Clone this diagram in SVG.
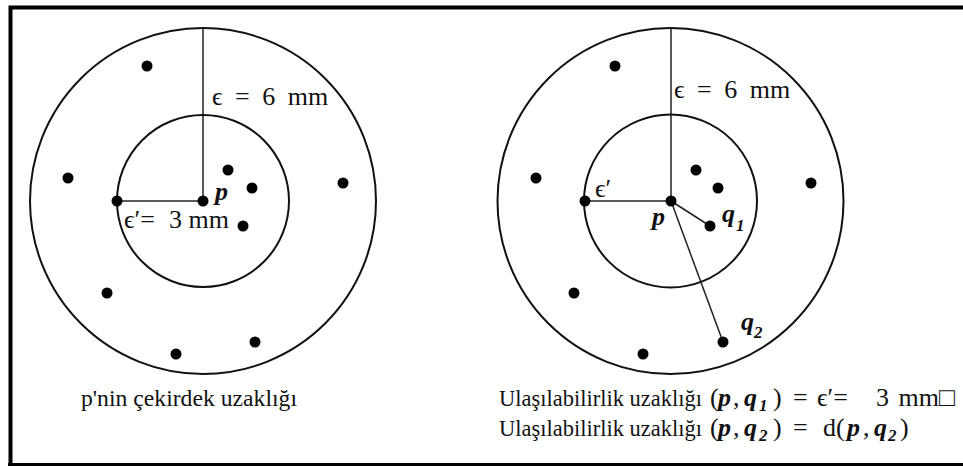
<svg xmlns="http://www.w3.org/2000/svg" width="963" height="466" viewBox="0 0 963 466">
<rect x="0" y="0" width="963" height="466" fill="#fff"/>
<path d="M10.5 466 V7.5 H963" fill="none" stroke="#000" stroke-width="4"/>
<line x1="8" y1="464.5" x2="963" y2="464.5" stroke="#000" stroke-width="3"/>

<g id="connectors" stroke="#222" stroke-width="1.5" fill="none">
<line x1="203" y1="28" x2="203" y2="201"/>
<line x1="117" y1="201" x2="203" y2="201"/>
<line x1="671" y1="28" x2="671" y2="201"/>
<line x1="585" y1="201" x2="671" y2="201"/>
<line x1="671" y1="201" x2="710" y2="226"/>
<line x1="671" y1="201" x2="723" y2="342"/>
</g>

<g id="left-diagram">
<g fill="none" stroke="#111" stroke-width="2">
<circle cx="203" cy="201" r="173"/>
<circle cx="203" cy="201" r="86"/>
</g>
<g id="left-points" fill="#000">
<circle cx="147" cy="66" r="5.5"/>
<circle cx="68" cy="178" r="5.5"/>
<circle cx="228" cy="170" r="5.5"/>
<circle cx="252" cy="188" r="5.5"/>
<circle cx="343" cy="183" r="5.5"/>
<circle cx="117" cy="201" r="5.5"/>
<circle cx="203" cy="201" r="5.5"/>
<circle cx="243" cy="226" r="5.5"/>
<circle cx="107" cy="293" r="5.5"/>
<circle cx="255" cy="342" r="5.5"/>
<circle cx="176" cy="354" r="5.5"/>
</g>
<text font-family="Liberation Serif" font-size="26" fill="#111" x="212" y="105" word-spacing="6">ϵ = 6 mm</text>
<text font-family="Liberation Serif" font-size="26" font-style="italic" font-weight="bold" fill="#111" x="215" y="200">p</text>
<text font-family="Liberation Serif" font-size="26" fill="#111" x="124" y="228">ϵ′=</text>
<text font-family="Liberation Serif" font-size="26" fill="#111" x="169" y="228">3 mm</text>
<text font-family="Liberation Serif" font-size="23" fill="#111" x="81" y="406" textLength="216" lengthAdjust="spacingAndGlyphs">p'nin çekirdek uzaklığı</text>
</g>

<g id="right-diagram">
<g fill="none" stroke="#111" stroke-width="2">
<circle cx="670.5" cy="201" r="173"/>
<circle cx="670.5" cy="201" r="86.5"/>
</g>
<g id="right-points" fill="#000">
<circle cx="615" cy="66" r="5.5"/>
<circle cx="536" cy="178" r="5.5"/>
<circle cx="696" cy="170" r="5.5"/>
<circle cx="718" cy="188" r="5.5"/>
<circle cx="811" cy="183" r="5.5"/>
<circle cx="585" cy="201" r="5.5"/>
<circle cx="671" cy="201" r="5.5"/>
<circle cx="710" cy="226" r="5.5"/>
<circle cx="574" cy="293" r="5.5"/>
<circle cx="723" cy="342" r="5.5"/>
<circle cx="643" cy="354" r="5.5"/>
</g>
<text font-family="Liberation Serif" font-size="26" fill="#111" x="674" y="98" word-spacing="6">ϵ = 6 mm</text>
<text font-family="Liberation Serif" font-size="26" fill="#111" x="595" y="197">ϵ′</text>
<text font-family="Liberation Serif" font-size="26" font-style="italic" font-weight="bold" fill="#111" x="652" y="225">p</text>
<text font-family="Liberation Serif" font-size="26" font-style="italic" font-weight="bold" fill="#111" x="722" y="222">q</text>
<text font-family="Liberation Serif" font-size="17" font-style="italic" font-weight="bold" fill="#111" x="736" y="231">1</text>
<text font-family="Liberation Serif" font-size="26" font-style="italic" font-weight="bold" fill="#111" x="741" y="330">q</text>
<text font-family="Liberation Serif" font-size="17" font-style="italic" font-weight="bold" fill="#111" x="754" y="338">2</text>
</g>

<g id="formula-1">
<text font-family="Liberation Serif" font-size="23" fill="#111" x="499" y="406" textLength="203" lengthAdjust="spacingAndGlyphs">Ulaşılabilirlik uzaklığı</text>
<text font-family="Liberation Serif" font-size="26" fill="#111" x="710" y="406">(</text>
<text font-family="Liberation Serif" font-size="26" font-style="italic" font-weight="bold" fill="#111" x="718" y="406">p</text>
<text font-family="Liberation Serif" font-size="26" fill="#111" x="733" y="406">,</text>
<text font-family="Liberation Serif" font-size="26" font-style="italic" font-weight="bold" fill="#111" x="744" y="406">q</text>
<text font-family="Liberation Serif" font-size="17" font-style="italic" font-weight="bold" fill="#111" x="759" y="411">1</text>
<text font-family="Liberation Serif" font-size="26" fill="#111" x="773" y="406">)</text>
<text font-family="Liberation Serif" font-size="26" fill="#111" x="793" y="406">=</text>
<text font-family="Liberation Serif" font-size="26" fill="#111" x="817" y="406">ϵ′=</text>
<text font-family="Liberation Serif" font-size="26" fill="#111" x="876" y="406" word-spacing="3">3 mm□</text>
</g>

<g id="formula-2">
<text font-family="Liberation Serif" font-size="23" fill="#111" x="499" y="436" textLength="203" lengthAdjust="spacingAndGlyphs">Ulaşılabilirlik uzaklığı</text>
<text font-family="Liberation Serif" font-size="26" fill="#111" x="710" y="436">(</text>
<text font-family="Liberation Serif" font-size="26" font-style="italic" font-weight="bold" fill="#111" x="718" y="436">p</text>
<text font-family="Liberation Serif" font-size="26" fill="#111" x="733" y="436">,</text>
<text font-family="Liberation Serif" font-size="26" font-style="italic" font-weight="bold" fill="#111" x="744" y="436">q</text>
<text font-family="Liberation Serif" font-size="17" font-style="italic" font-weight="bold" fill="#111" x="759" y="441">2</text>
<text font-family="Liberation Serif" font-size="26" fill="#111" x="773" y="436">)</text>
<text font-family="Liberation Serif" font-size="26" fill="#111" x="793" y="436">=</text>
<text font-family="Liberation Serif" font-size="26" fill="#111" x="823" y="436">d(</text>
<text font-family="Liberation Serif" font-size="26" font-style="italic" font-weight="bold" fill="#111" x="847" y="436">p</text>
<text font-family="Liberation Serif" font-size="26" fill="#111" x="863" y="436">,</text>
<text font-family="Liberation Serif" font-size="26" font-style="italic" font-weight="bold" fill="#111" x="874" y="436">q</text>
<text font-family="Liberation Serif" font-size="17" font-style="italic" font-weight="bold" fill="#111" x="888" y="441">2</text>
<text font-family="Liberation Serif" font-size="26" fill="#111" x="900" y="436">)</text>
</g>
</svg>
